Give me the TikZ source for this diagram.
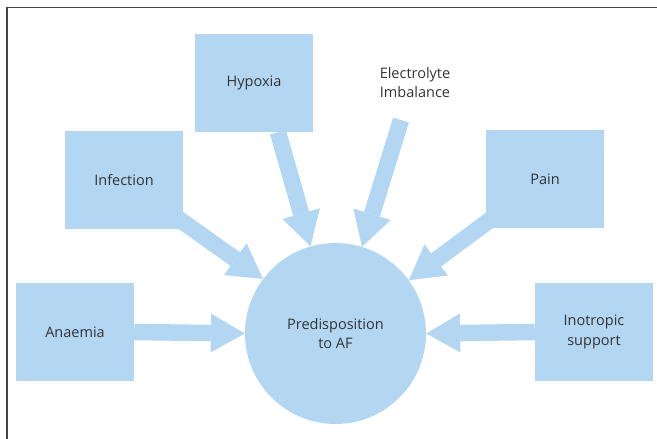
\documentclass[tikz,border=0pt]{standalone}
\usepackage{fontspec}
\setmainfont{Open Sans}
\usetikzlibrary{arrows.meta,calc,backgrounds}
\definecolor{lb}{HTML}{B3D6F2}
\definecolor{tx}{HTML}{333333}
\definecolor{frm}{HTML}{444444}
\begin{document}
\begin{tikzpicture}[x=1pt,y=-1pt,
  lbl/.style={text=tx, font=\fontsize{14.5}{19.5}\selectfont, align=center},
  box/.style={lbl, fill=lb, minimum width=118pt, minimum height=98pt, inner sep=0pt},
  hub/.style={lbl, circle, fill=lb, minimum size=181pt, inner sep=0pt},
  blk/.style={draw=lb, line width=16.5pt, -{Triangle[width=39pt,length=34pt,line width=0pt]}}]
\useasboundingbox (0,0) rectangle (657,439);
\draw[frm, line width=1.3pt] (7,439) -- (7,7.5) -- (657,7.5);
\node[box] (hyp) at (254,83) {Hypoxia};
\node[box] (inf) at (124,180) {Infection};
\node[box] (pain) at (545,179) {Pain};
\node[box] (ane) at (75,332) {Anaemia};
\node[box] (ino) at (594,332) {Inotropic\\support};
\node[hub] (c) at (335.5,333.5) {Predisposition\\to AF};
\node[lbl] (ele) at (415,82.5) {Electrolyte\\Imbalance};
\coordinate (es) at (401,120);
\begin{scope}[on background layer]
\draw[blk] (ane.east) -- (c.west);
\draw[blk] (ino.west) -- (c.east);
\draw[blk] ($(hyp.south)+(24,0)$) -- (c.106);
\draw[blk] (es) -- (c.73);
\draw[blk] (inf.center) -- (c.143);
\draw[blk] (pain.center) -- (c.36);
\end{scope}
\end{tikzpicture}
\end{document}
